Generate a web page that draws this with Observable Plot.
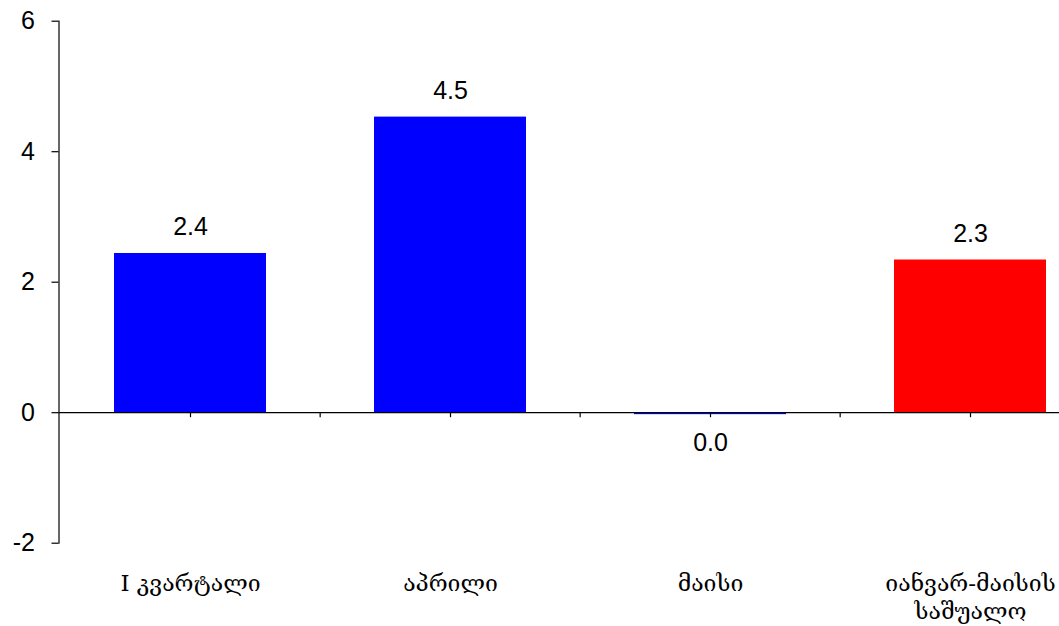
<!DOCTYPE html>
<html>
<head>
<meta charset="utf-8">
<script src="https://cdn.jsdelivr.net/npm/d3@7"></script>
<script src="https://cdn.jsdelivr.net/npm/@observablehq/plot@0.6"></script>
<style>
  html, body { margin: 0; padding: 0; background: white; }
  #chart { width: 1059px; height: 626px; overflow: hidden; }
  #chart svg { overflow: hidden; max-width: none; }
</style>
</head>
<body>
<div id="chart"></div>
<script>
const categories = ["I კვარტალი", "აპრილი", "მაისი", "იანვარ-მაისის\nსაშუალო"];
const values = [2.44, 4.53, -0.03, 2.34];
const colors = ["#0000ff", "#0000ff", "#0000ff", "#ff0000"];
const yTicks = [-2, 0, 2, 4, 6];

const data = categories.map((c, i) => ({cat: c, value: values[i], color: colors[i]}));
const fmt = v => (Math.round(v * 10) / 10 + 0).toFixed(1);

const W = 1059, H = 626;
const xRange = [58.5, 1101.3];
const step = (xRange[1] - xRange[0]) / categories.length;

const plot = Plot.plot({
  width: W,
  height: H,
  marginTop: 20.7,
  marginBottom: 83.3,
  marginLeft: 58.5,
  marginRight: 0,
  style: {fontFamily: "'Liberation Sans', Arial, sans-serif", color: "black", background: "white"},
  x: {domain: categories, range: xRange, paddingInner: 0.417, paddingOuter: 0.2085, axis: null},
  y: {domain: [-2, 6], axis: null},
  marks: [
    Plot.barY(data, {x: "cat", y: "value", fill: "color"}),
    Plot.ruleY([0], {stroke: "black", strokeWidth: 1.2}),
    Plot.frame({anchor: "left", stroke: "black", strokeWidth: 1.2}),
    Plot.axisY({ticks: yTicks, label: null, tickSize: 7, tickPadding: 17, fontSize: 25, stroke: "black", strokeWidth: 1.2, tickFormat: d => String(d)}),
    Plot.ruleX(categories, {x: d => d, y1: 0, y2: 0, insetBottom: -5, stroke: "black", strokeWidth: 1.2}),
    Plot.ruleX(categories.slice(1), {x: d => d, y1: 0, y2: 0, insetBottom: -5, dx: -step / 2, stroke: "black", strokeWidth: 1.2}),
    Plot.text(data.filter(d => d.value >= 0), {x: "cat", y: "value", text: d => fmt(d.value), dy: -26, fontSize: 25, fill: "black"}),
    Plot.text(data.filter(d => d.value < 0), {x: "cat", y: "value", text: d => fmt(d.value), dy: 28, fontSize: 25, fill: "black"}),
    Plot.text(categories, {x: d => d, frameAnchor: "bottom", lineAnchor: "top", dy: 29, lineHeight: 1.18, fontSize: 23, fill: "black",
      fontFamily: "'DejaVu Serif', 'DejaVu Sans', serif"})
  ]
});
document.getElementById("chart").appendChild(plot);
</script>
</body>
</html>
